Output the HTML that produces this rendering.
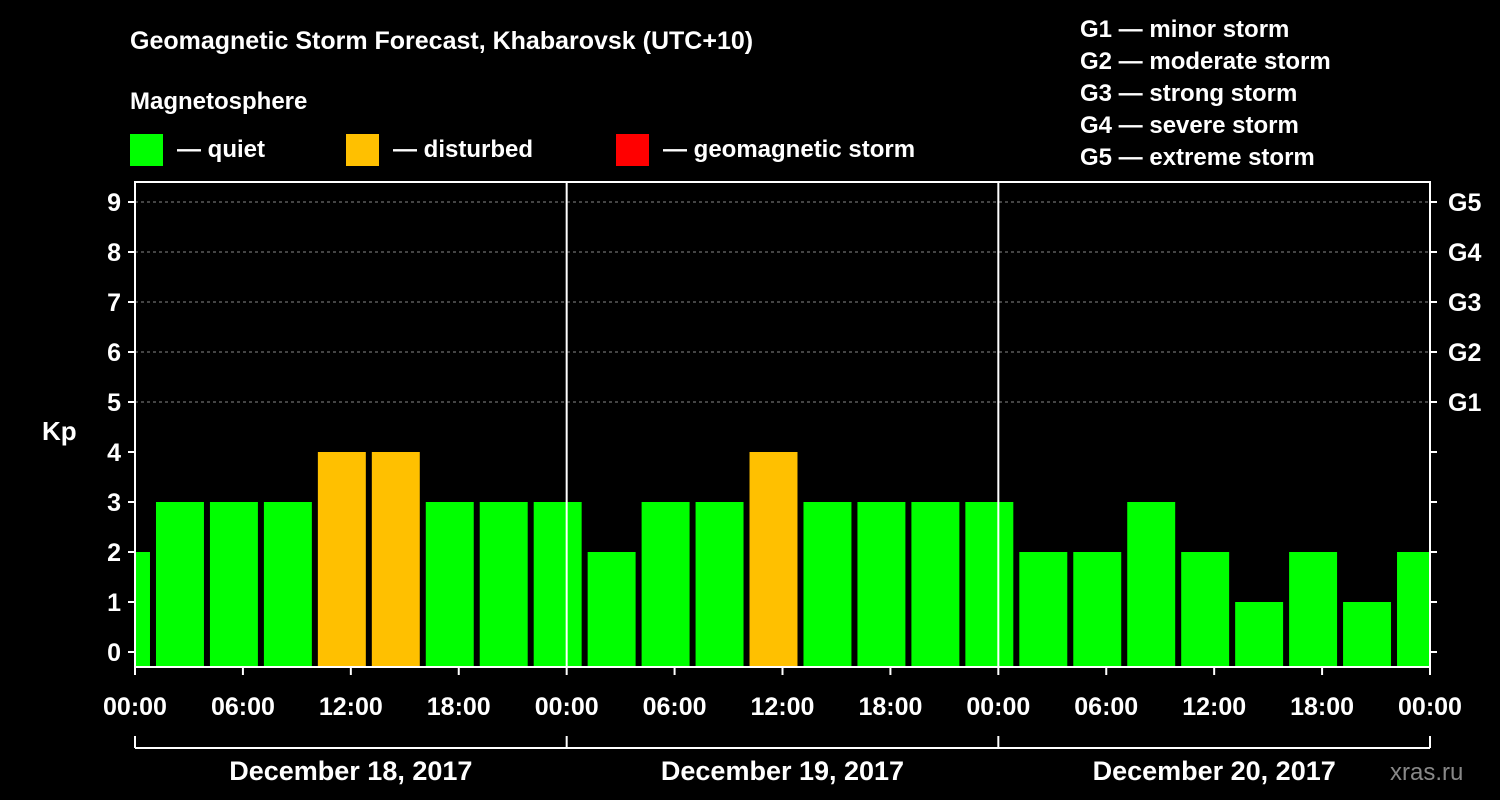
<!DOCTYPE html>
<html><head><meta charset="utf-8"><style>
html,body{margin:0;padding:0;background:#000;}
svg{display:block;font-family:"Liberation Sans",Arial,sans-serif;font-weight:bold;}
</style></head><body>
<svg width="1500" height="800" viewBox="0 0 1500 800">
<rect x="0" y="0" width="1500" height="800" fill="#000"/>
<text x="130" y="49" fill="#fff" font-size="25">Geomagnetic Storm Forecast, Khabarovsk (UTC+10)</text>
<text x="130" y="109" fill="#fff" font-size="24">Magnetosphere</text>
<g><rect x="130" y="134" width="33" height="32" fill="#00ff00"/><text x="177" y="157" fill="#fff" font-size="24">— quiet</text></g>
<g><rect x="346" y="134" width="33" height="32" fill="#ffc000"/><text x="393" y="157" fill="#fff" font-size="24">— disturbed</text></g>
<g><rect x="616" y="134" width="33" height="32" fill="#ff0000"/><text x="663" y="157" fill="#fff" font-size="24">— geomagnetic storm</text></g>
<g fill="#fff" font-size="24">
<text x="1080" y="37">G1 — minor storm</text>
<text x="1080" y="69">G2 — moderate storm</text>
<text x="1080" y="101">G3 — strong storm</text>
<text x="1080" y="133">G4 — severe storm</text>
<text x="1080" y="165">G5 — extreme storm</text>
</g>
<text x="42" y="440" fill="#fff" font-size="26">Kp</text>
<text x="1390" y="780" fill="#888" font-size="24" font-weight="normal">xras.ru</text>
<g id="plot"></g>
</svg>
<script>
const kpValues=[2,3,3,3,4,4,3,3,3, 2,3,3,4,3,3,3,3, 2,2,3,2,1,2,1,2];
const barStartHours=-2; // first bar start hour (local)
const yTicks=[0,1,2,3,4,5,6,7,8,9];
const gLabels=["G1","G2","G3","G4","G5"];
const xTickLabels=["00:00","06:00","12:00","18:00","00:00","06:00","12:00","18:00","00:00","06:00","12:00","18:00","00:00"];
const dayLabels=["December 18, 2017","December 19, 2017","December 20, 2017"];

const NS="http://www.w3.org/2000/svg";
const L=135,R=1430,T=182,B=667;
const X=h=>L+h*(R-L)/72;
const Y=v=>652-v*50;
const g=document.getElementById('plot');
function mk(t,a,p){const e=document.createElementNS(NS,t);for(const k in a)e.setAttribute(k,a[k]);(p||g).appendChild(e);return e;}
const clip=mk('clipPath',{id:'pc'});mk('rect',{x:L,y:T,width:R-L,height:B-T},clip);
// grid
[5,6,7,8,9].forEach(v=>{const l=mk('line',{x1:L,x2:R,y1:Y(v),y2:Y(v),stroke:'#888','stroke-dasharray':'3,3','stroke-width':1});

});
// bars
const bg=mk('g',{'clip-path':'url(#pc)'});
kpValues.forEach((v,i)=>{const h0=barStartHours+3*i;
const c=v>=5?'#ff0000':(v>=4?'#ffc000':'#00ff00');
const r=mk('rect',{x:X(h0)+3,y:Y(v),width:X(h0+3)-X(h0)-6,height:B-Y(v),fill:c},bg);

});
// day separators
[24,48].forEach(h=>{const l=mk('line',{x1:X(h),x2:X(h),y1:T,y2:B,stroke:'#fff','stroke-width':2});

});
const fr=mk('rect',{x:L,y:T,width:R-L,height:B-T,fill:'none',stroke:'#fff','stroke-width':2});


// y ticks
yTicks.forEach(v=>{mk('line',{x1:L-7,x2:L,y1:Y(v),y2:Y(v),stroke:'#fff','stroke-width':2});
mk('line',{x1:R,x2:R+7,y1:Y(v),y2:Y(v),stroke:'#fff','stroke-width':2});
const t=mk('text',{x:L-14,y:Y(v)+9,fill:'#fff','font-size':25,'text-anchor':'end'});t.textContent=v;


if(v>=5){const gt=mk('text',{x:R+18,y:Y(v)+9,fill:'#fff','font-size':25});gt.textContent=gLabels[v-5];

}});
// x ticks
xTickLabels.forEach((s,i)=>{const x=X(i*6);mk('line',{x1:x,x2:x,y1:B,y2:B+8,stroke:'#fff','stroke-width':2});
const t=mk('text',{x:x,y:715,fill:'#fff','font-size':25,'text-anchor':'middle'});t.textContent=s;

});
// day bracket
mk('line',{x1:L,x2:R,y1:748,y2:748,stroke:'#fff','stroke-width':2});
[0,24,48,72].forEach(h=>mk('line',{x1:X(h),x2:X(h),y1:736,y2:748,stroke:'#fff','stroke-width':2}));
dayLabels.forEach((s,i)=>{const t=mk('text',{x:X(i*24+12),y:780,fill:'#fff','font-size':27,'text-anchor':'middle'});t.textContent=s;

});
</script>
</body></html>
